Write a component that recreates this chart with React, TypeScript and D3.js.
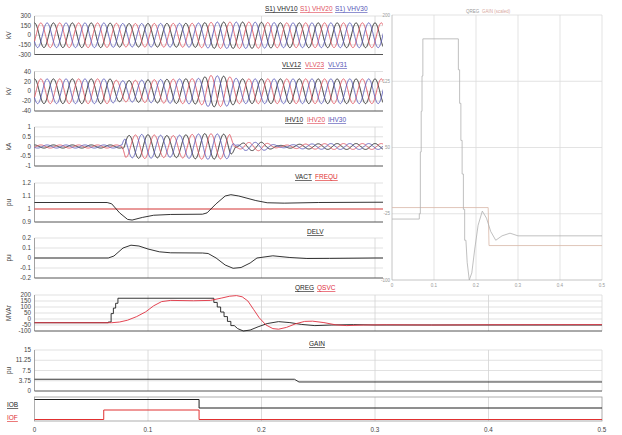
import React from 'react';
import * as d3 from 'd3';

// ---------------- DATA ----------------
const X_TICKS = [0, 0.1, 0.2, 0.3, 0.4, 0.5];
const X_GRID = [0.1, 0.2, 0.3, 0.4];
const FREQ_HZ = 60;
const PHASE_DEG = [90, -30, 210];
const PHASE_COLORS = ['#1e1e1e', '#e0505e', '#5555b5'];

// amplitude envelopes
const VHV_ENV_T = [0, 0.06, 0.08, 0.14, 0.16, 0.19, 0.22, 0.5];
const VHV_ENV_A = [192, 192, 182, 186, 205, 205, 193, 193];
const VLV_ENV_T = [0, 0.066, 0.075, 0.1, 0.145, 0.155, 0.17, 0.18, 0.5];
const VLV_ENV_A = [25, 25, 21, 23, 26, 32, 30, 25, 25];
const IHV_ENV_T = [0, 0.077, 0.08, 0.095, 0.12, 0.15, 0.172, 0.177, 0.185, 0.2, 0.215, 0.235, 0.26, 0.5];
const IHV_ENV_A = [0.08, 0.08, 0.55, 0.62, 0.55, 0.66, 0.62, 0.05, 0.2, 0.22, 0.05, 0.12, 0.15, 0.15];

const VACT_T = [0, 0.064, 0.068, 0.075, 0.082, 0.086, 0.095, 0.105, 0.12, 0.148, 0.152, 0.16, 0.168, 0.173, 0.18, 0.195, 0.205, 0.22, 0.25, 0.3, 0.5];
const VACT_V = [1.05, 1.05, 1.04, 0.97, 0.92, 0.915, 0.935, 0.952, 0.958, 0.96, 0.97, 1.04, 1.1, 1.11, 1.1, 1.065, 1.048, 1.045, 1.05, 1.052, 1.055];
const FREQU_T = [0, 0.5];
const FREQU_V = [1, 1];

const DELV_T = [0, 0.065, 0.07, 0.078, 0.085, 0.092, 0.1, 0.11, 0.12, 0.148, 0.153, 0.16, 0.168, 0.175, 0.182, 0.19, 0.196, 0.21, 0.225, 0.24, 0.26, 0.3, 0.5];
const DELV_V = [0, 0, 0.02, 0.1, 0.128, 0.12, 0.09, 0.062, 0.052, 0.05, 0.045, 0.0, -0.07, -0.103, -0.095, -0.05, 0, 0.022, 0.005, -0.005, -0.004, 0, 0];

const QREG_T = [0, 0.065, 0.065, 0.0675, 0.0675, 0.0695, 0.0695, 0.0715, 0.0715, 0.0735, 0.0735, 0.158, 0.158, 0.161, 0.161, 0.164, 0.164, 0.167, 0.167, 0.17, 0.17, 0.173, 0.173, 0.176, 0.179, 0.184, 0.19, 0.197, 0.205, 0.215, 0.225, 0.235, 0.247, 0.262, 0.281, 0.3, 0.35, 0.5];
const QREG_V = [-31, -31, -25, -25, 45, 45, 91, 91, 131, 131, 173, 173, 138, 138, 100, 100, 58, 58, 20, 20, -20, -20, -55, -55, -80, -100, -92, -65, -38, -22, -30, -45, -55, -50, -47, -50, -50, -50];
const QSVC_T = [0, 0.068, 0.075, 0.082, 0.09, 0.098, 0.105, 0.112, 0.12, 0.14, 0.155, 0.165, 0.172, 0.178, 0.183, 0.188, 0.193, 0.198, 0.204, 0.21, 0.215, 0.222, 0.23, 0.238, 0.245, 0.255, 0.265, 0.275, 0.29, 0.31, 0.35, 0.4, 0.5];
const QSVC_V = [-31, -31, -25, -10, 20, 60, 110, 145, 155, 152, 155, 175, 190, 195, 185, 150, 80, 10, -50, -80, -85, -70, -40, -20, -18, -30, -48, -55, -50, -48, -50, -48, -47];

const GAIN_T = [0, 0.229, 0.233, 0.5];
const GAIN_V = [4.3, 4.3, 3.3, 3.3];

const IOB_T = [0, 0.145, 0.145, 0.5];
const IOB_V = [1, 1, 0, 0];
const IOF_T = [0, 0.061, 0.061, 0.145, 0.145, 0.5];
const IOF_V = [0, 0, 1, 1, 0, 0];

const AUX_T = [0, 0.229, 0.231, 0.5];
const AUX_V = [-18, -18, -61, -61];

const RIGHT_Y_TICKS = [200, 125, 50, -25, -100];

// ---------------- HELPERS ----------------
const FONT = "'Liberation Sans', Arial, sans-serif";
const pairs = (t: number[], v: number[]) => t.map((d, i) => [d, v[i]] as [number, number]);

function threePhase(envT: number[], envA: number[]) {
  const env = d3.scaleLinear(envT, envA).clamp(true);
  const times = d3.range(0, 0.5 + 1e-9, 0.0002);
  return PHASE_DEG.map((ph) =>
    times.map((t) => [t, env(t) * Math.sin(2 * Math.PI * FREQ_HZ * t + (ph * Math.PI) / 180)] as [number, number])
  );
}

const xL = d3.scaleLinear([0, 0.5], [34.5, 602]);

type Series = { data: [number, number][]; color: string; width?: number };
type PanelCfg = {
  top: number; bottom: number; domain: [number, number]; ticks: number[]; tickFmt?: (v: number) => string;
  unit: string; series: Series[]; legend: { text: string; x: number; color: string }[]; legendY: number;
};

const vhv = threePhase(VHV_ENV_T, VHV_ENV_A);
const vlv = threePhase(VLV_ENV_T, VLV_ENV_A);
const ihv = threePhase(IHV_ENV_T, IHV_ENV_A);

const panels: PanelCfg[] = [
  { top: 16, bottom: 54.5, domain: [-300, 300], ticks: [300, 150, 0, -150, -300], unit: 'kV', legendY: 11,
    series: vhv.map((d, i) => ({ data: d, color: PHASE_COLORS[i] })),
    legend: [{ text: 'S1) VHV10', x: 265, color: PHASE_COLORS[0] }, { text: 'S1) VHV20', x: 300, color: PHASE_COLORS[1] }, { text: 'S1) VHV30', x: 335, color: PHASE_COLORS[2] }] },
  { top: 71.5, bottom: 111, domain: [-40, 40], ticks: [40, 20, 0, -20, -40], unit: 'kV', legendY: 67,
    series: vlv.map((d, i) => ({ data: d, color: PHASE_COLORS[i] })),
    legend: [{ text: 'VLV12', x: 282, color: PHASE_COLORS[0] }, { text: 'VLV23', x: 305, color: PHASE_COLORS[1] }, { text: 'VLV31', x: 328, color: PHASE_COLORS[2] }] },
  { top: 127, bottom: 166, domain: [-1, 1], ticks: [1, 0.5, 0, -0.5, -1], unit: 'kA', legendY: 122,
    series: ihv.map((d, i) => ({ data: d, color: PHASE_COLORS[i] })),
    legend: [{ text: 'IHV10', x: 285, color: PHASE_COLORS[0] }, { text: 'IHV20', x: 307, color: PHASE_COLORS[1] }, { text: 'IHV30', x: 328, color: PHASE_COLORS[2] }] },
  { top: 183, bottom: 222, domain: [0.9, 1.2], ticks: [1.2, 1.1, 1, 0.9], unit: 'pu', legendY: 179,
    series: [{ data: pairs(FREQU_T, FREQU_V), color: '#e03030' }, { data: pairs(VACT_T, VACT_V), color: '#1e1e1e' }],
    legend: [{ text: 'VACT', x: 295, color: '#1e1e1e' }, { text: 'FREQU', x: 315, color: '#e03030' }] },
  { top: 238, bottom: 278, domain: [-0.2, 0.2], ticks: [0.2, 0.1, 0, -0.1, -0.2], unit: 'pu', legendY: 234,
    series: [{ data: pairs(DELV_T, DELV_V), color: '#1e1e1e' }],
    legend: [{ text: 'DELV', x: 307, color: '#1e1e1e' }] },
  { top: 295, bottom: 331, domain: [-100, 200], ticks: [200, 150, 100, 50, 0, -50, -100], unit: 'MVAr', legendY: 290,
    series: [{ data: pairs(QREG_T, QREG_V), color: '#1e1e1e' }, { data: pairs(QSVC_T, QSVC_V), color: '#e03040' }],
    legend: [{ text: 'QREG', x: 295, color: '#1e1e1e' }, { text: 'QSVC', x: 317, color: '#e03040' }] },
  { top: 350, bottom: 391, domain: [0, 15], ticks: [15, 11.25, 7.5, 3.75, 0], unit: 'pu', legendY: 346,
    series: [{ data: pairs(GAIN_T, GAIN_V), color: '#1e1e1e' }],
    legend: [{ text: 'GAIN', x: 309, color: '#1e1e1e' }] },
];

function Panel({ cfg }: { cfg: PanelCfg }) {
  const y = d3.scaleLinear(cfg.domain, [cfg.bottom, cfg.top]);
  const line = d3.line<[number, number]>().x((d) => xL(d[0])).y((d) => y(d[1]));
  const [x0, x1] = xL.range();
  return (
    <g>
      {cfg.ticks.slice(0, -1).map((t) => (
        <line key={'h' + t} x1={x0} x2={x1} y1={y(t)} y2={y(t)} stroke="#d9d9d9" strokeWidth={0.8} />
      ))}
      {X_GRID.map((t) => (
        <line key={'v' + t} x1={xL(t)} x2={xL(t)} y1={cfg.top} y2={cfg.bottom} stroke="#d3d3d3" strokeWidth={0.8} />
      ))}
      <line x1={x1} x2={x1} y1={cfg.top} y2={cfg.bottom} stroke="#d9d9d9" strokeWidth={0.8} />
      <line x1={x0} x2={x0} y1={cfg.top} y2={cfg.bottom} stroke="#8a8a8a" strokeWidth={0.8} />
      <line x1={x0} x2={x1} y1={cfg.bottom} y2={cfg.bottom} stroke="#555" strokeWidth={1} />
      {cfg.ticks.map((t) => (
        <text key={'t' + t} x={31} y={y(t)} dy="0.35em" textAnchor="end" fontSize={6.3} fill="#444" fontFamily={FONT}>
          {t}
        </text>
      ))}
      <text transform={`translate(11,${(cfg.top + cfg.bottom) / 2}) rotate(-90)`} textAnchor="middle" fontSize={6.5} fill="#444" fontFamily={FONT}>
        {cfg.unit}
      </text>
      {cfg.series.map((s, i) => (
        <path key={i} d={line(s.data) || ''} fill="none" stroke={s.color} strokeWidth={s.width ?? 0.9} />
      ))}
      {cfg.legend.map((l) => (
        <text key={l.text} x={l.x} y={cfg.legendY} fontSize={6.5} fill={l.color} fontFamily={FONT} style={{ textDecoration: 'underline' }}>
          {l.text}
        </text>
      ))}
    </g>
  );
}

function DigitalPanel() {
  const top = 397, bottom = 421;
  const yB = d3.scaleLinear([0, 1], [408, 399.5]);
  const yF = d3.scaleLinear([0, 1], [419.5, 410]);
  const lb = d3.line<[number, number]>().x((d) => xL(d[0])).y((d) => yB(d[1]));
  const lf = d3.line<[number, number]>().x((d) => xL(d[0])).y((d) => yF(d[1]));
  const [x0, x1] = xL.range();
  return (
    <g>
      {X_GRID.map((t) => (
        <line key={t} x1={xL(t)} x2={xL(t)} y1={top} y2={bottom} stroke="#d3d3d3" strokeWidth={0.8} />
      ))}
      <rect x={x0} y={top} width={x1 - x0} height={bottom - top} fill="none" stroke="#9a9a9a" strokeWidth={0.8} />
      <path d={lb(pairs(IOB_T, IOB_V)) || ''} fill="none" stroke="#1e1e1e" strokeWidth={1} />
      <path d={lf(pairs(IOF_T, IOF_V)) || ''} fill="none" stroke="#e03030" strokeWidth={1} />
      <text x={7} y={407} fontSize={6.5} fill="#1e1e1e" fontFamily={FONT} style={{ textDecoration: 'underline' }}>IOB</text>
      <text x={7} y={420} fontSize={6.5} fill="#e03030" fontFamily={FONT} style={{ textDecoration: 'underline' }}>IOF</text>
      {X_TICKS.map((t) => (
        <text key={'x' + t} x={xL(t)} y={432} textAnchor="middle" fontSize={6.3} fill="#444" fontFamily={FONT}>{t}</text>
      ))}
    </g>
  );
}

function OverlayPanel() {
  const xR = d3.scaleLinear([0, 0.5], [392, 602]);
  const yR = d3.scaleLinear([-100, 200], [280, 15]);
  const line = d3.line<[number, number]>().x((d) => xR(d[0])).y((d) => yR(d[1]));
  return (
    <g>
      <rect x={383} y={0} width={239} height={291} fill="#fff" />
      {RIGHT_Y_TICKS.slice(0, -1).map((t) => (
        <line key={'h' + t} x1={392} x2={602} y1={yR(t)} y2={yR(t)} stroke="#dcdcdc" strokeWidth={0.8} />
      ))}
      {X_TICKS.slice(1).map((t) => (
        <line key={'v' + t} x1={xR(t)} x2={xR(t)} y1={15} y2={280} stroke="#dcdcdc" strokeWidth={0.8} />
      ))}
      <line x1={392} x2={392} y1={15} y2={280} stroke="#b5b5b5" strokeWidth={0.8} />
      <line x1={392} x2={602} y1={280} y2={280} stroke="#b5b5b5" strokeWidth={0.8} />
      {RIGHT_Y_TICKS.map((t) => (
        <text key={'t' + t} x={390} y={yR(t)} dy="0.35em" textAnchor="end" fontSize={4.5} fill="#999" fontFamily={FONT}>{t}</text>
      ))}
      {X_TICKS.map((t) => (
        <text key={'x' + t} x={xR(t)} y={287} textAnchor="middle" fontSize={4.5} fill="#999" fontFamily={FONT}>{t}</text>
      ))}
      <path d={line(pairs(AUX_T, AUX_V)) || ''} fill="none" stroke="#d8b8a8" strokeWidth={0.8} />
      <path d={line(pairs(QREG_T, QREG_V)) || ''} fill="none" stroke="#b0b0b0" strokeWidth={0.8} />
      <text x={466} y={13} fontSize={4.5} fill="#999" fontFamily={FONT}>QREG</text>
      <text x={482} y={13} fontSize={4.5} fill="#d8a8a0" fontFamily={FONT}>GAIN (scaled)</text>
    </g>
  );
}

export default function App() {
  return (
    <svg width={622} height={435} viewBox="0 0 622 435" style={{ position: 'absolute', left: 0, top: 0, background: '#fff' }}>
      <rect x={0} y={0} width={622} height={435} fill="#fff" />
      {panels.map((p, i) => (
        <Panel key={i} cfg={p} />
      ))}
      <DigitalPanel />
      <OverlayPanel />
    </svg>
  );
}
